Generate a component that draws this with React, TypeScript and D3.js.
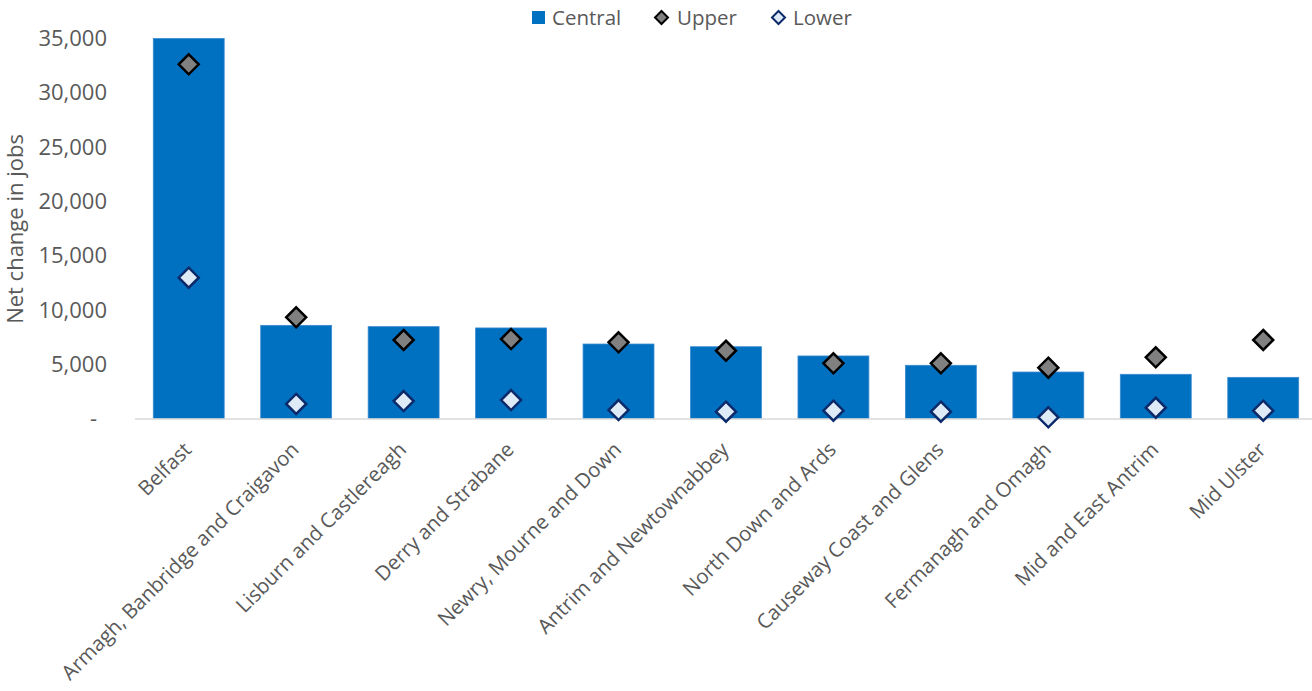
import React from "react";
import * as d3 from "d3";

const categories = [
  "Belfast",
  "Armagh, Banbridge and Craigavon",
  "Lisburn and Castlereagh",
  "Derry and Strabane",
  "Newry, Mourne and Down",
  "Antrim and Newtownabbey",
  "North Down and Ards",
  "Causeway Coast and Glens",
  "Fermanagh and Omagh",
  "Mid and East Antrim",
  "Mid Ulster",
];
const central = [35000, 8580, 8460, 8340, 6860, 6610, 5760, 4900, 4280, 4070, 3790];
const upper = [32620, 9320, 7230, 7320, 7020, 6240, 5080, 5080, 4680, 5640, 7230];
const lower = [12970, 1340, 1610, 1700, 780, 630, 720, 630, 110, 990, 720];
const yTicks = [0, 5000, 10000, 15000, 20000, 25000, 30000, 35000];
const legendItems = ["Central", "Upper", "Lower"];

const W = 1312;
const H = 691;
const FONT = "'Open Sans', sans-serif";
const TXT = "#595959";

export default function App() {
  const x = d3
    .scaleBand<string>()
    .domain(categories)
    .range([135, 135 + 11 * 107.45])
    .paddingInner(0.34)
    .paddingOuter(0.17);
  const y = d3.scaleLinear().domain([0, 35000]).range([418.5, 38.5]);
  const fmt = d3.format(",");
  const diamond = (cx: number, cy: number, r: number) =>
    `M${cx},${cy - r}L${cx + r},${cy}L${cx},${cy + r}L${cx - r},${cy}Z`;

  return (
    <svg
      width={W}
      height={H}
      style={{ position: "absolute", left: 0, top: 0, display: "block", background: "#fff" }}
      fontFamily={FONT}
    >
      {/* bars */}
      {categories.map((c, i) => (
        <rect
          key={c}
          x={x(c)!}
          y={y(central[i])}
          width={x.bandwidth()}
          height={y(0) - y(central[i])}
          fill="#0070c0"
          stroke="#3a8ad0"
          strokeWidth={0.8}
        />
      ))}
      {/* axis line */}
      <line x1={135} x2={W} y1={y(0) + 0.5} y2={y(0) + 0.5} stroke="#d9d9d9" strokeWidth={1.6} />
      {/* markers */}
      {categories.map((c, i) => {
        const cx = x(c)! + x.bandwidth() / 2;
        return (
          <g key={"m" + c}>
            <path d={diamond(cx, y(upper[i]), 10)} fill="#808080" stroke="#000" strokeWidth={2.5} />
            <path d={diamond(cx, y(lower[i]), 10)} fill="#deebf7" stroke="#0c2a6a" strokeWidth={2.5} />
          </g>
        );
      })}
      {/* y ticks */}
      {yTicks.map((t) => (
        <text
          key={t}
          x={t === 0 ? 97 : 107}
          y={y(t)}
          dy="0.35em"
          textAnchor="end"
          fontSize={22}
          fill={TXT}
        >
          {t === 0 ? "-" : fmt(t)}
        </text>
      ))}
      {/* y title */}
      <text
        transform={`translate(15,229) rotate(-90)`}
        textAnchor="middle"
        dy="0.35em"
        fontSize={22}
        fill={TXT}
      >
        Net change in jobs
      </text>
      {/* x labels */}
      {categories.map((c) => {
        const cx = x(c)! + x.bandwidth() / 2;
        return (
          <text
            key={"l" + c}
            transform={`translate(${cx + 4},${451}) rotate(-45)`}
            textAnchor="end"
            fontSize={20.4}
            fill={TXT}
          >
            {c}
          </text>
        );
      })}
      {/* legend */}
      <g>
        <rect x={532} y={11} width={13} height={13} fill="#0070c0" />
        <text x={552} y={17.5} dy="0.35em" fontSize={20.5} fill={TXT}>
          {legendItems[0]}
        </text>
        <path d={diamond(661.5, 17.5, 6.5)} fill="#808080" stroke="#000" strokeWidth={2} />
        <text x={677} y={17.5} dy="0.35em" fontSize={20.5} fill={TXT}>
          {legendItems[1]}
        </text>
        <path d={diamond(778.5, 17.5, 6.5)} fill="#deebf7" stroke="#0c2a6a" strokeWidth={2} />
        <text x={793} y={17.5} dy="0.35em" fontSize={20.5} fill={TXT}>
          {legendItems[2]}
        </text>
      </g>
    </svg>
  );
}
